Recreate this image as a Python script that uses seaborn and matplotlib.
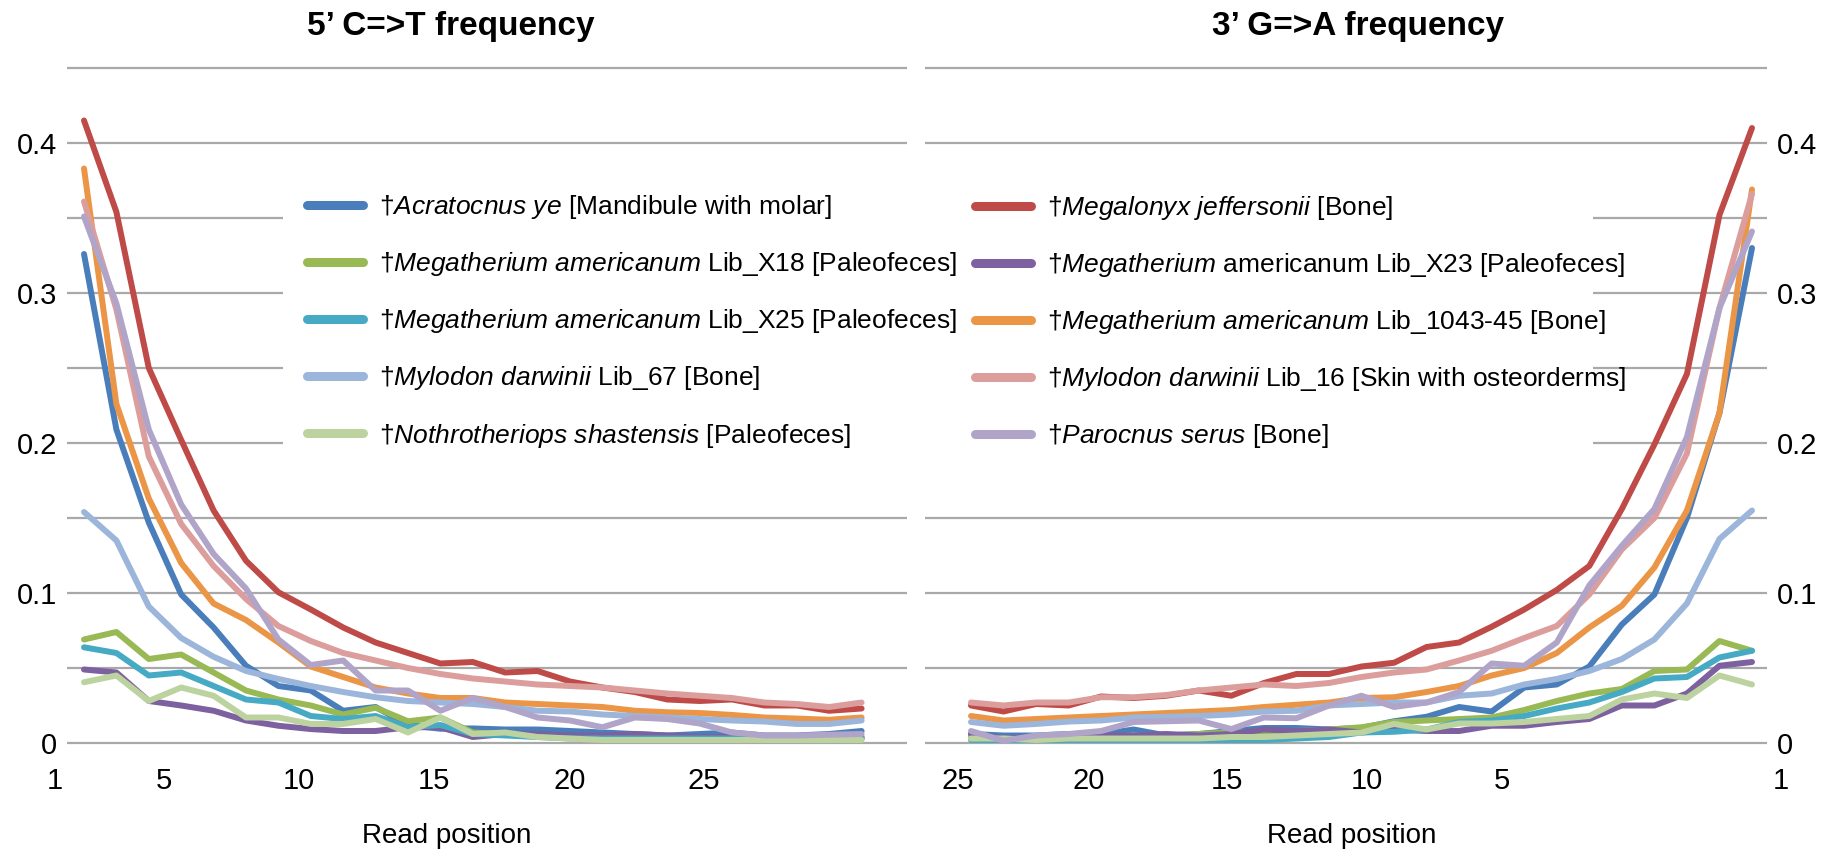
import numpy as np
import pandas as pd
import matplotlib
matplotlib.use("Agg")
import matplotlib.pyplot as plt
from matplotlib.lines import Line2D
from matplotlib.patches import Rectangle
import seaborn as sns

# ---------------- data ----------------
positions = list(range(1, 26))

samples = [
    "Acratocnus", "Megalonyx", "Megatherium_X18", "Megatherium_X23",
    "Megatherium_X25", "Megatherium_1043", "Mylodon_16", "Mylodon_67",
    "Nothrotheriops", "Parocnus",
]

# 5' C=>T frequency (read positions 1..25)
ct_acratocnus = [0.326, 0.209, 0.147, 0.099, 0.077, 0.0515, 0.038, 0.035, 0.0215, 0.024, 0.012, 0.0095, 0.0097,
                 0.009, 0.009, 0.008, 0.007, 0.006, 0.005, 0.006, 0.007, 0.005, 0.005, 0.006, 0.008]
ct_megalonyx = [0.415, 0.354, 0.250, 0.202, 0.155, 0.1215, 0.1005, 0.089, 0.077, 0.067, 0.060, 0.053, 0.054,
                0.047, 0.048, 0.041, 0.037, 0.034, 0.029, 0.028, 0.029, 0.025, 0.025, 0.0215, 0.023]
ct_x18 = [0.069, 0.074, 0.056, 0.059, 0.047, 0.035, 0.029, 0.025, 0.019, 0.0235, 0.0145, 0.017, 0.007,
          0.006, 0.005, 0.004, 0.004, 0.004, 0.003, 0.004, 0.003, 0.003, 0.003, 0.003, 0.003]
ct_x23 = [0.049, 0.047, 0.028, 0.025, 0.0215, 0.015, 0.0115, 0.0093, 0.008, 0.008, 0.0105, 0.0105, 0.004,
          0.006, 0.006, 0.005, 0.005, 0.006, 0.005, 0.004, 0.004, 0.004, 0.004, 0.004, 0.004]
ct_x25 = [0.0638, 0.060, 0.045, 0.047, 0.038, 0.029, 0.027, 0.018, 0.016, 0.018, 0.0105, 0.012, 0.006,
          0.005, 0.004, 0.003, 0.003, 0.003, 0.003, 0.003, 0.003, 0.003, 0.003, 0.003, 0.003]
ct_1043 = [0.383, 0.226, 0.163, 0.120, 0.093, 0.082, 0.067, 0.051, 0.044, 0.037, 0.033, 0.030, 0.030,
           0.027, 0.026, 0.025, 0.024, 0.0215, 0.0205, 0.020, 0.0187, 0.017, 0.0163, 0.0155, 0.017]
ct_mylodon16 = [0.361, 0.289, 0.191, 0.146, 0.118, 0.096, 0.078, 0.068, 0.060, 0.055, 0.050, 0.046, 0.043,
                0.041, 0.039, 0.038, 0.037, 0.035, 0.033, 0.0315, 0.030, 0.027, 0.026, 0.024, 0.027]
ct_mylodon67 = [0.154, 0.135, 0.091, 0.070, 0.0575, 0.048, 0.0427, 0.038, 0.034, 0.0305, 0.028, 0.027, 0.026,
                0.024, 0.0215, 0.021, 0.019, 0.018, 0.017, 0.016, 0.015, 0.0143, 0.0127, 0.0127, 0.015]
ct_nothro = [0.0405, 0.045, 0.028, 0.037, 0.0315, 0.017, 0.017, 0.0127, 0.0127, 0.016, 0.007, 0.017, 0.006,
             0.007, 0.004, 0.003, 0.002, 0.002, 0.002, 0.002, 0.002, 0.002, 0.002, 0.002, 0.002]
ct_parocnus = [0.351, 0.293, 0.209, 0.159, 0.126, 0.103, 0.069, 0.052, 0.055, 0.035, 0.035, 0.0215, 0.030,
               0.024, 0.017, 0.015, 0.0105, 0.017, 0.016, 0.013, 0.007, 0.005, 0.005, 0.0055, 0.006]

# 3' G=>A frequency (read positions 1..25)
ga_acratocnus = [0.330, 0.220, 0.150, 0.099, 0.079, 0.051, 0.039, 0.037, 0.021, 0.024, 0.0175, 0.0145, 0.010,
                 0.009, 0.010, 0.010, 0.008, 0.006, 0.005, 0.009, 0.006, 0.006, 0.005, 0.005, 0.006]
ga_megalonyx = [0.410, 0.352, 0.246, 0.199, 0.156, 0.118, 0.102, 0.089, 0.0775, 0.067, 0.064, 0.0535, 0.051,
                0.046, 0.046, 0.040, 0.0315, 0.035, 0.0315, 0.030, 0.031, 0.025, 0.026, 0.021, 0.025]
ga_x18 = [0.0615, 0.068, 0.049, 0.048, 0.036, 0.033, 0.028, 0.022, 0.017, 0.016, 0.015, 0.014, 0.0105,
          0.009, 0.008, 0.007, 0.007, 0.006, 0.005, 0.005, 0.004, 0.004, 0.003, 0.003, 0.004]
ga_x23 = [0.054, 0.0515, 0.033, 0.025, 0.025, 0.016, 0.014, 0.0115, 0.0115, 0.008, 0.008, 0.009, 0.007,
          0.009, 0.008, 0.009, 0.006, 0.005, 0.006, 0.005, 0.005, 0.004, 0.004, 0.003, 0.006]
ga_x25 = [0.0615, 0.057, 0.044, 0.043, 0.034, 0.027, 0.023, 0.018, 0.015, 0.014, 0.009, 0.0075, 0.007,
          0.004, 0.003, 0.002, 0.002, 0.002, 0.002, 0.002, 0.002, 0.002, 0.002, 0.002, 0.002]
ga_1043 = [0.369, 0.220, 0.155, 0.117, 0.0915, 0.077, 0.060, 0.050, 0.045, 0.038, 0.034, 0.0305, 0.030,
           0.027, 0.0255, 0.024, 0.022, 0.021, 0.020, 0.019, 0.018, 0.017, 0.016, 0.015, 0.018]
ga_mylodon16 = [0.366, 0.290, 0.193, 0.150, 0.129, 0.099, 0.078, 0.070, 0.0615, 0.055, 0.049, 0.047, 0.044,
                0.040, 0.038, 0.039, 0.037, 0.035, 0.032, 0.0305, 0.0305, 0.027, 0.027, 0.025, 0.027]
ga_mylodon67 = [0.155, 0.136, 0.093, 0.069, 0.056, 0.048, 0.0427, 0.039, 0.033, 0.0315, 0.027, 0.027, 0.026,
                0.025, 0.0215, 0.021, 0.019, 0.018, 0.0175, 0.017, 0.015, 0.0143, 0.0127, 0.0115, 0.014]
ga_nothro = [0.039, 0.045, 0.030, 0.033, 0.029, 0.018, 0.016, 0.014, 0.013, 0.013, 0.009, 0.0127, 0.007,
             0.006, 0.005, 0.004, 0.004, 0.003, 0.003, 0.003, 0.003, 0.003, 0.002, 0.003, 0.003]
ga_parocnus = [0.341, 0.290, 0.204, 0.156, 0.1315, 0.105, 0.067, 0.0515, 0.053, 0.034, 0.027, 0.024, 0.0315,
               0.025, 0.0165, 0.017, 0.0093, 0.015, 0.0145, 0.014, 0.008, 0.006, 0.005, 0.0015, 0.008]

ct_values = [ct_acratocnus, ct_megalonyx, ct_x18, ct_x23, ct_x25, ct_1043,
             ct_mylodon16, ct_mylodon67, ct_nothro, ct_parocnus]
ga_values = [ga_acratocnus, ga_megalonyx, ga_x18, ga_x23, ga_x25, ga_1043,
             ga_mylodon16, ga_mylodon67, ga_nothro, ga_parocnus]

colors = {
    "Acratocnus": "#4a7ebb", "Megalonyx": "#be4b48", "Megatherium_X18": "#98b954",
    "Megatherium_X23": "#7d60a0", "Megatherium_X25": "#46aac5", "Megatherium_1043": "#eb9546",
    "Mylodon_16": "#dc9e9c", "Mylodon_67": "#9cb5da", "Nothrotheriops": "#bcd3a0",
    "Parocnus": "#b0a4c9",
}

left_legend = [
    ("Acratocnus", "†$\\mathit{Acratocnus\\ ye}$ [Mandibule with molar]"),
    ("Megatherium_X18", "†$\\mathit{Megatherium\\ americanum}$ Lib_X18 [Paleofeces]"),
    ("Megatherium_X25", "†$\\mathit{Megatherium\\ americanum}$ Lib_X25 [Paleofeces]"),
    ("Mylodon_67", "†$\\mathit{Mylodon\\ darwinii}$ Lib_67 [Bone]"),
    ("Nothrotheriops", "†$\\mathit{Nothrotheriops\\ shastensis}$ [Paleofeces]"),
]
right_legend = [
    ("Megalonyx", "†$\\mathit{Megalonyx\\ jeffersonii}$ [Bone]"),
    ("Megatherium_X23", "†$\\mathit{Megatherium}$ americanum Lib_X23 [Paleofeces]"),
    ("Megatherium_1043", "†$\\mathit{Megatherium\\ americanum}$ Lib_1043-45 [Bone]"),
    ("Mylodon_16", "†$\\mathit{Mylodon\\ darwinii}$ Lib_16 [Skin with osteorderms]"),
    ("Parocnus", "†$\\mathit{Parocnus\\ serus}$ [Bone]"),
]

tick_labels_left = ["1", "5", "10", "15", "20", "25"]
tick_labels_right = ["25", "20", "15", "10", "5", "1"]
y_labels = ["0", "0.1", "0.2", "0.3", "0.4"]
y_ticks = [0.0, 0.1, 0.2, 0.3, 0.4]

# ---------------- style ----------------
sns.set_theme(style="white")
plt.rcParams["font.family"] = ["Liberation Sans", "DejaVu Sans"]
plt.rcParams["mathtext.fontset"] = "custom"
plt.rcParams["mathtext.rm"] = "Liberation Sans"
plt.rcParams["mathtext.it"] = "Liberation Sans:italic"
plt.rcParams["text.color"] = "black"
plt.rcParams["axes.labelcolor"] = "black"
plt.rcParams["xtick.color"] = "black"
plt.rcParams["ytick.color"] = "black"

W, H = 1836, 851
fig = plt.figure(figsize=(W / 100, H / 100), dpi=100)

Y0_PX = 743.0      # pixel row of value 0
PX_PER_UNIT = 1500.0
YMIN, YMAX = -0.0015, 0.4515


def rect(x0, x1):
    ytop = Y0_PX - YMAX * PX_PER_UNIT
    ybot = Y0_PX - YMIN * PX_PER_UNIT
    return [x0 / W, 1 - ybot / H, (x1 - x0) / W, (ybot - ytop) / H]


ax1 = fig.add_axes(rect(67, 907))
ax2 = fig.add_axes(rect(925, 1767))


def long_frame(values):
    rows = []
    for name, vals in zip(samples, values):
        for p, v in zip(positions, vals):
            rows.append({"pos": p, "freq": v, "sample": name})
    return pd.DataFrame(rows)


grid_color = "#a9a9a9"
for ax, values in ((ax1, ct_values), (ax2, ga_values)):
    df = long_frame(values)
    sns.lineplot(data=df, x="pos", y="freq", hue="sample", hue_order=samples,
                 palette=colors, linewidth=4.3, legend=False, errorbar=None, ax=ax,
                 solid_joinstyle="round", solid_capstyle="round")
    ax.set_ylim(YMIN, YMAX)
    ax.set_yticks(y_ticks)
    ax.set_yticklabels(y_labels, fontsize=21)
    ax.set_yticks(np.arange(0, 0.46, 0.05), minor=True)
    ax.set_xticks([])
    ax.grid(False)
    ax.yaxis.grid(True, which="both", color=grid_color, linewidth=1.6)
    ax.set_axisbelow(True)
    ax.tick_params(axis="y", which="both", length=0, pad=7, colors="black")
    for s in ax.spines.values():
        s.set_visible(False)
    ax.set_xlabel("")
    ax.set_ylabel("")

ax1.set_xlim(1 - 17 / 32.4, 1 + 823 / 32.4)
ax2.set_xlim(25 + 46 / 32.54, 1 - 15 / 32.54)
ax2.yaxis.tick_right()

# x tick labels (placed where the reference shows them)
left_tick_pos = [0.105, 3.47, 7.64, 11.80, 16.0, 20.14]
right_tick_pos = [25.40, 21.37, 17.13, 12.83, 8.68, 0.11]
label_y = -(781 - Y0_PX) / PX_PER_UNIT
for ax, poss, labs in ((ax1, left_tick_pos, tick_labels_left), (ax2, right_tick_pos, tick_labels_right)):
    for p, lab in zip(poss, labs):
        ax.text(p, label_y, lab, ha="center", va="center", fontsize=21, clip_on=False,
                color="black")

# titles and axis titles
fig.text(451 / W, 1 - 26 / H, "5\u2019 C=>T frequency", ha="center", va="center",
         fontsize=24, fontweight="bold", color="black")
fig.text(1358 / W, 1 - 26 / H, "3\u2019 G=>A frequency", ha="center", va="center",
         fontsize=24, fontweight="bold", color="black")
fig.text(447 / W, 1 - 836 / H, "Read position", ha="center", va="center", fontsize=20,
         color="black")
fig.text(1352 / W, 1 - 836 / H, "Read position", ha="center", va="center", fontsize=20,
         color="black")

# white backgrounds behind the legends (hide the gridlines there)
for x0, x1 in ((283, 907), (925, 1593)):
    fig.add_artist(Rectangle((x0 / W, 1 - 470 / H), (x1 - x0) / W, (470 - 170) / H,
                             transform=fig.transFigure, facecolor="white",
                             edgecolor="none", zorder=2))


def make_legend(entries, x_px, y_px):
    handles = [Line2D([0], [0], color=colors[k], linewidth=6.5, solid_capstyle="round")
               for k, _ in entries]
    labels = [lab for _, lab in entries]
    leg = fig.legend(handles, labels, loc="upper left",
                     bbox_to_anchor=(x_px / W, 1 - y_px / H),
                     frameon=False, fontsize=19, handlelength=2.1, handletextpad=0.6,
                     labelspacing=1.1, borderpad=1.0, borderaxespad=0,
                     labelcolor="black")
    leg.set_zorder(5)
    return leg


make_legend(left_legend, 281, 167)
make_legend(right_legend, 949, 168)

fig.savefig("out.png", dpi=100, facecolor="white")
